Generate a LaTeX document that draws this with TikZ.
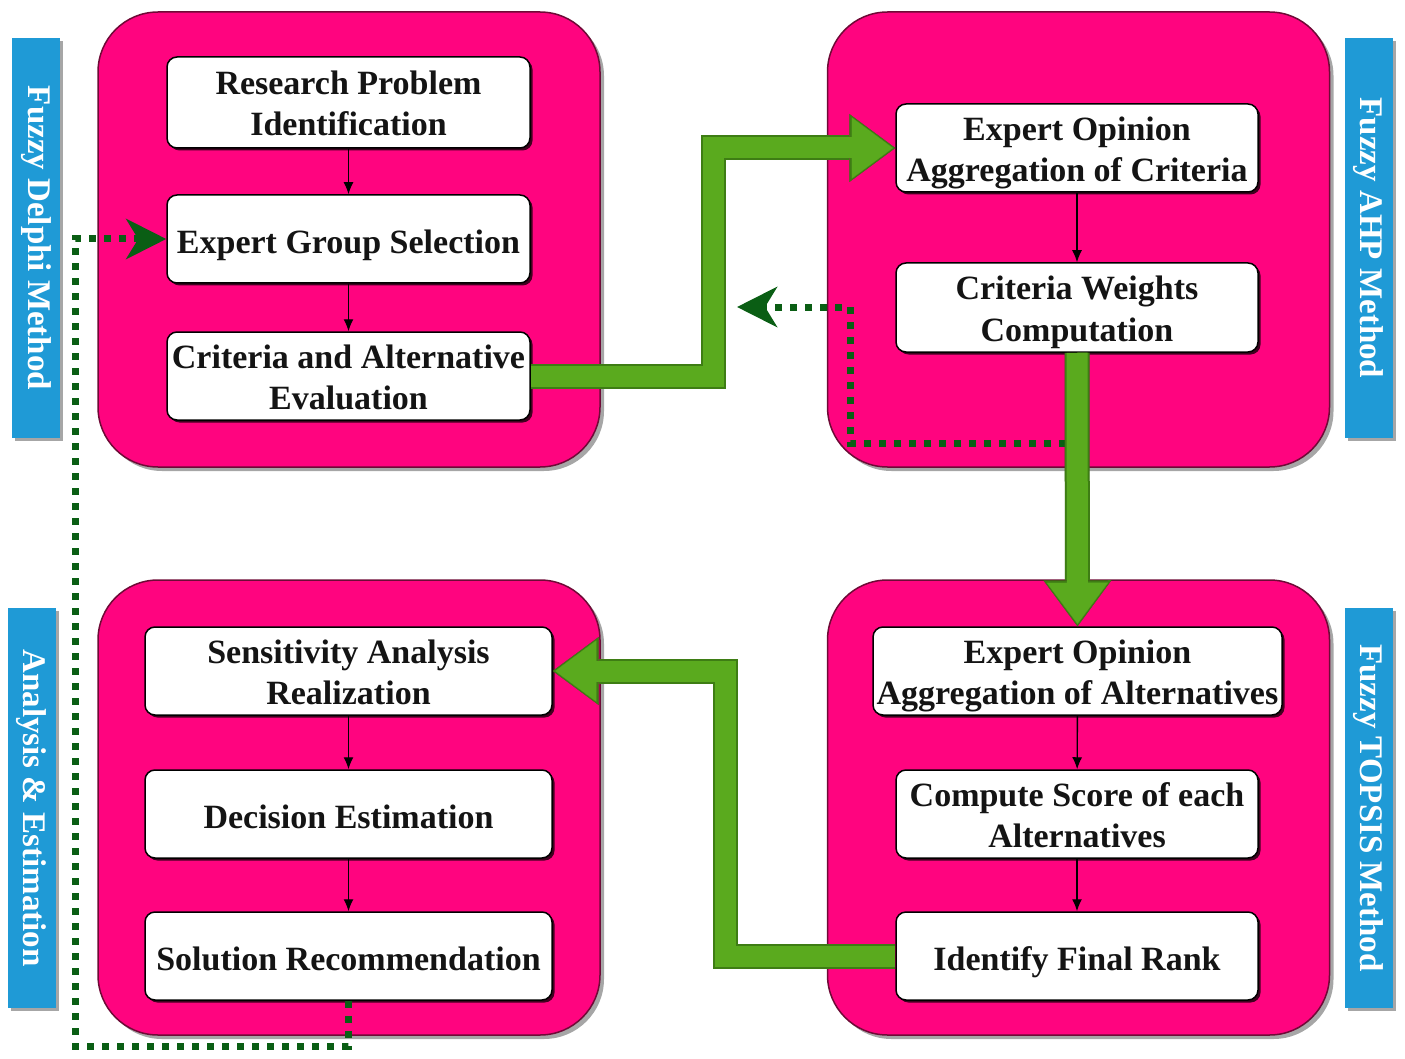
\documentclass[tikz,border=0pt]{standalone}
\usepackage{fontspec}
\setmainfont{Liberation Serif}
\usetikzlibrary{arrows.meta,shadows,calc}
\definecolor{pinkp}{HTML}{FF047F}
\definecolor{panelline}{HTML}{6E0A36}
\definecolor{bluel}{HTML}{1F9AD6}
\definecolor{greenfill}{HTML}{5AAA1E}
\definecolor{greenline}{HTML}{3E7D14}
\definecolor{dgreen}{HTML}{0A5E14}
\begin{document}
\begin{tikzpicture}[x=1pt,y=-1pt,
  panel/.style={draw=panelline, line width=1.5pt, fill=pinkp, rounded corners=60pt,
    drop shadow={shadow xshift=4pt, shadow yshift=-4pt, opacity=0.35, fill=black}},
  stepbox/.style={draw=black, line width=1.5pt, fill=white, rounded corners=10pt,
    align=center, inner sep=0pt, text=black!92,
    font=\bfseries\fontsize{34}{41}\selectfont,
    execute at begin node={\rule{0pt}{38pt}},
    execute at end node={\rule[-9pt]{0pt}{1pt}},
    drop shadow={shadow xshift=2.5pt, shadow yshift=-2.5pt, opacity=0.75, fill=black}},
  stepbox2/.style={stepbox, execute at begin node={\rule{0pt}{76pt}}},
  sidelabel/.style={fill=bluel, minimum width=48pt, minimum height=400pt, inner sep=0pt,
    text=white, font=\bfseries\fontsize{33}{40}\selectfont,
    drop shadow={shadow xshift=3pt, shadow yshift=-3pt, opacity=0.35, fill=black}},
  stepline/.style={draw=black, line width=1.4pt, -{Latex[length=12pt,width=10pt]}},
  flowshadow/.style={draw=black, opacity=0.25, line width=25pt, xshift=3pt, yshift=-3pt,
    -{Triangle[width=68pt,length=46pt,line width=0.1pt]}},
  flowout/.style={draw=greenline, line width=25pt,
    -{Triangle[width=68pt,length=46pt,line width=0.1pt]}},
  flowin/.style={draw=greenfill, line width=21pt, shorten >=2.5pt,
    -{Triangle[width=61pt,length=41pt,line width=0.1pt]}},
  dots/.style={draw=dgreen, line width=7pt, dash pattern=on 7pt off 8pt,
    -{Stealth[length=40pt,width=40pt,inset=12pt]}}
]
\useasboundingbox (0,0) rectangle (1405,1059);

% panels
\node[panel, minimum width=502pt, minimum height=455pt] (p1) at (349,239.5) {};
\node[panel, minimum width=502pt, minimum height=455pt] (p2) at (1078.5,239.5) {};
\node[panel, minimum width=502pt, minimum height=455pt] (p3) at (349,807.5) {};
\node[panel, minimum width=502pt, minimum height=455pt] (p4) at (1078.5,807.5) {};

% side labels
\node[sidelabel] (l1) at (36,238) {\rotatebox{-90}{Fuzzy Delphi Method}};
\node[sidelabel] (l2) at (1368.5,238) {\rotatebox{-90}{Fuzzy AHP Method}};
\node[sidelabel] (l3) at (1368.5,808) {\rotatebox{-90}{Fuzzy TOPSIS Method}};
\node[sidelabel] (l4) at (31.5,808) {\rotatebox{-90}{Analysis \& Estimation}};

% boxes
\node[stepbox2, minimum width=363pt, minimum height=91pt] (b1) at (348.5,102.5) {Research Problem\\Identification};
\node[stepbox, minimum width=363pt, minimum height=88pt] (b2) at (348.5,239) {Expert Group Selection};
\node[stepbox2, minimum width=363pt, minimum height=88pt] (b3) at (348.5,376) {Criteria and Alternative\\Evaluation};
\node[stepbox2, minimum width=362pt, minimum height=88pt] (b4) at (1077,148) {Expert Opinion\\Aggregation of Criteria};
\node[stepbox2, minimum width=362pt, minimum height=89pt] (b5) at (1077,307.5) {Criteria Weights\\Computation};
\node[stepbox2, minimum width=409pt, minimum height=88pt] (b6) at (1077.5,671) {Expert Opinion\\Aggregation of Alternatives};
\node[stepbox2, minimum width=362pt, minimum height=88pt] (b7) at (1077,814) {Compute Score of each\\Alternatives};
\node[stepbox, minimum width=362pt, minimum height=88pt] (b8) at (1077,956) {Identify Final Rank};
\node[stepbox2, minimum width=407pt, minimum height=88pt] (b9) at (348.5,671) {Sensitivity Analysis\\Realization};
\node[stepbox, minimum width=407pt, minimum height=88pt] (b10) at (348.5,814) {Decision Estimation};
\node[stepbox, minimum width=407pt, minimum height=88pt] (b11) at (348.5,956) {Solution Recommendation};

% thin arrows
\draw[stepline] (b1) -- (b2);
\draw[stepline] (b2) -- (b3);
\draw[stepline] (b4) -- (b5);
\draw[stepline] (b6) -- (b7);
\draw[stepline] (b7) -- (b8);
\draw[stepline] (b9) -- (b10);
\draw[stepline] (b10) -- (b11);

% dotted feedback arrows
\coordinate (d4s) at (1066,443);
\coordinate (d4c) at (850,443);
\coordinate (d4e) at (737,307);
\draw[dots] (d4s) -- (d4c) |- (d4e);
\coordinate (d5c) at (75,1046);
\draw[dots] (b11.south) |- (d5c) |- (b2.west);

% green flow arrows
\coordinate (g1) at (713,0);
\coordinate (g3) at (725,0);
\foreach \s in {flowshadow,flowout,flowin}{
  \draw[\s] (b3.east) -| (g1 |- b4.west) -- (b4.west);
  \draw[\s] (b5.south) -- (b6.north);
  \draw[\s] (b8.west) -| (g3 |- b9.east) -- (b9.east);
}
\end{tikzpicture}
\end{document}
